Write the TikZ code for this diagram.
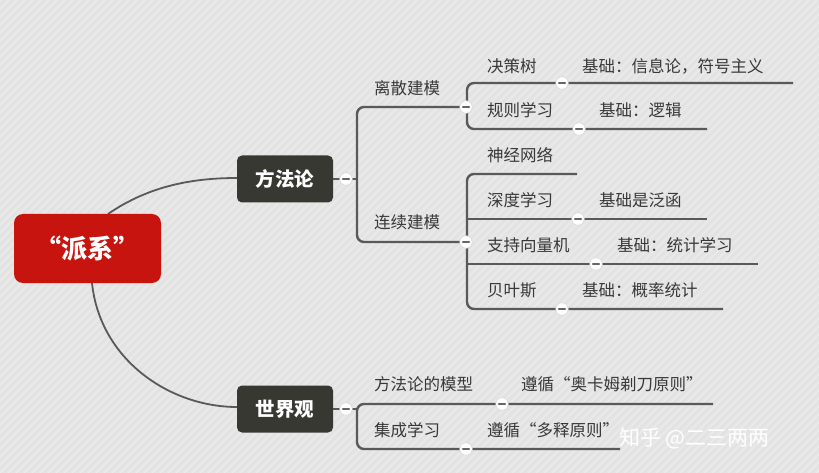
\documentclass[tikz,border=0pt]{standalone}
\usepackage{fontspec}
\setmainfont{Noto Sans CJK SC}
\definecolor{rootred}{HTML}{C8140F}
\definecolor{topicbg}{HTML}{383832}
\begin{document}
\begin{tikzpicture}[x=1pt,y=-1pt,
  ln/.style={draw=black!65,line width=2.4pt},
  br/.style={ln,rounded corners=7pt},
  cv/.style={draw=black!65,line width=1.8pt},
  lbl/.style={anchor=west,inner sep=0pt,text=black!78,font=\fontsize{16.5}{17}\selectfont},
  topic/.style={rectangle,rounded corners=5pt,fill=topicbg,minimum width=96pt,minimum height=47pt,text=white,font=\fontsize{19.5}{20}\selectfont\bfseries},
  mn/.style={circle,minimum size=12.5pt,inner sep=0pt,fill=white,draw=black!15,line width=0.6pt,
    path picture={\draw[black!60,line width=2.2pt,line cap=round] ([xshift=-3pt]path picture bounding box.center) -- ([xshift=3pt]path picture bounding box.center);}}]
\useasboundingbox (0,0) rectangle (819,473);
\fill[black!11] (0,0) rectangle (819,473);
\begin{scope}
\clip (0,0) rectangle (819,473);
\foreach \i in {-480,-472,...,820} \draw[white,opacity=0.25,line width=1.5pt] (\i,473) -- (\i+473,0);
\end{scope}
% curves
\draw[cv] (108,214) .. controls (150,185) and (195,178) .. (237,178);
\draw[cv] (92,283) .. controls (100,360) and (170,407) .. (237,407);
% root and topics
\node[rectangle,rounded corners=9pt,fill=rootred,minimum width=147pt,minimum height=69pt,text=white,font=\fontsize{26}{27}\selectfont\bfseries] (root) at (87.5,248.5) {“派系”};
\node[topic] (ff) at (285,179) {方法论};
\node[topic] (sj) at (285,409) {世界观};
% methodology bracket
\draw[ln] (ff.east) -- (357,179);
\draw[br] (460,107) -- (357,107) -- (357,242) -- (460,242);
\node[mn] (m1) at (346,179) {};
\node[lbl] (lisan) at (374,88) {离散建模};
\node[lbl] (lianxu) at (374,222) {连续建模};
% discrete
\draw[br] (793,83) -- (467,83) -- (467,129) -- (707,129);
\draw[ln] (460,107) -- (467,107);
\node[mn] (m2) at (466,107) {};
\node[mn] (m3) at (562,83) {};
\node[mn] (m4) at (579,129) {};
\node[lbl] (jcs) at (487,66) {决策树};
\node[lbl] at (582,66) {基础：信息论，符号主义};
\node[lbl] (gzxx) at (487,110) {规则学习};
\node[lbl] at (599,110) {基础：逻辑};
% continuous
\draw[br] (577,174) -- (467,174) -- (467,309) -- (723,309);
\draw[ln] (467,219) -- (707,219);
\draw[ln] (467,264) -- (758,264);
\draw[ln] (460,242) -- (467,242);
\node[mn] (m5) at (466,242) {};
\node[mn] (m6) at (578,219) {};
\node[mn] (m7) at (596,264) {};
\node[mn] (m8) at (562,309) {};
\node[lbl] (sjwl) at (487,155) {神经网络};
\node[lbl] (sdxx) at (487,200) {深度学习};
\node[lbl] at (599,200) {基础是泛函};
\node[lbl] (zcxl) at (487,245) {支持向量机};
\node[lbl] at (617,245) {基础：统计学习};
\node[lbl] (bys) at (487,290) {贝叶斯};
\node[lbl] at (582,290) {基础：概率统计};
% world view
\draw[ln] (sj.east) -- (357,409);
\draw[br] (713,404) -- (357,404) -- (357,449) -- (620,449);
\node[mn] (m9) at (346,409) {};
\node[mn] (m10) at (502,404) {};
\node[mn] (m11) at (466,449) {};
\node[lbl] (ffmx) at (374,384) {方法论的模型};
\node[lbl] at (521,384) {遵循“奥卡姆剃刀原则”};
\node[lbl] (jcxx) at (374,430) {集成学习};
\node[lbl] at (487,430) {遵循“多释原则”};
% watermark
\node[anchor=west,inner sep=0pt,text=white,font=\fontsize{21}{22}\selectfont] (wm) at (619,438) {知乎 @二三两两};
\end{tikzpicture}
\end{document}
